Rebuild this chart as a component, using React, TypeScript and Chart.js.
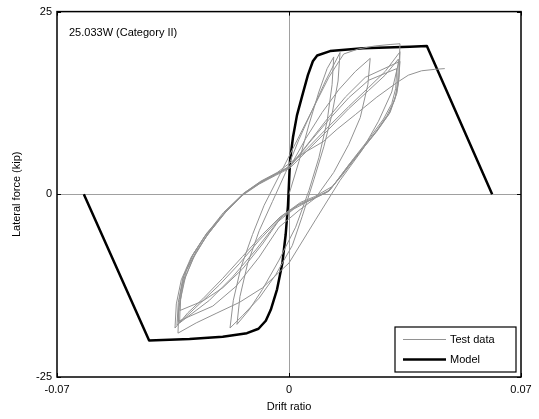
import { useEffect, useRef } from "react";
import { Chart, registerables } from "chart.js";

Chart.register(...registerables);

const panelLabel = "25.033W (Category II)";
const xTitle = "Drift ratio";
const yTitle = "Lateral force (kip)";
const seriesNames = ["Test data", "Model"];

const xTicks = [-0.07, 0, 0.07];
const xTickLabels = ["-0.07", "0", "0.07"];
const yTicks = [-25, 0, 25];
const yTickLabels = ["-25", "0", "25"];

// Model backbone
const modelDrift = [
  -0.0619, -0.0422, -0.03, -0.02, -0.0127, -0.0092, -0.007, -0.0055, -0.0036, -0.002, -0.001,
  -0.0003, 0.0003, 0.0012, 0.0024, 0.004, 0.0057, 0.0072, 0.0085, 0.0124, 0.0223, 0.0365, 0.0416,
  0.0613,
];
const modelForce = [
  0, -20, -19.8, -19.5, -19.0, -18.4, -17.3, -15.8, -13, -9.4, -5.5, -1.5, 4.6, 7.8, 10.8, 13.5,
  16.3, 18.2, 19.0, 19.6, 20.0, 20.2, 20.3, 0,
];

// Test data, as [drift ratio, force] in loading order
const testSmallCycles: [number, number][] = [
  [0, 0], [0.003, 4.5], [0.006, 9.5], [0.009, 14], [0.0115, 17.2], [0.0135, 18.8],
  [0.013, 15], [0.0115, 10], [0.009, 5], [0.006, 0.5], [0.002, -4.5], [-0.003, -9], [-0.008, -13], [-0.012, -15.8], [-0.0157, -17.8],
  [-0.0148, -14], [-0.0125, -9.5], [-0.009, -5], [-0.005, -1], [-0.001, 3], [0.003, 7.5], [0.007, 11.5], [0.011, 15.5], [0.0154, 19.4],
  [0.0148, 15.5], [0.013, 11], [0.0105, 6.5], [0.0075, 2], [0.004, -3], [0.001, -7], [-0.004, -11], [-0.009, -14.2], [-0.014, -16.6], [-0.0178, -18.3],
  [-0.0168, -14.5], [-0.0145, -10], [-0.011, -5.5], [-0.0075, -1.5], [-0.003, 2.5], [0.002, 7], [0.007, 11.5], [0.012, 16], [0.0165, 19.2],
  [0.021, 19.9], [0.026, 20.3], [0.0305, 20.5], [0.0335, 20.6],
];
const testLargeCycle1: [number, number][] = [
  [0.0333, 18.5], [0.031, 14], [0.027, 10], [0.022, 6], [0.0154, 1.9], [0.008, -3.5], [0, -9.4], [-0.008, -12.8], [-0.015, -14.8], [-0.022, -16.3], [-0.028, -17.6], [-0.0335, -19],
  [-0.0332, -15.5], [-0.0318, -12], [-0.029, -8.8], [-0.025, -5.8], [-0.0195, -2.6], [-0.0139, 0], [-0.0088, 1.6], [-0.004, 2.7], [0, 3.8], [0.006, 6.5], [0.012, 9.3], [0.018, 12], [0.024, 14.6], [0.029, 16.8], [0.0335, 19.5],
];
const testLargeCycle2: [number, number][] = [
  [0.0332, 16], [0.0326, 13.9], [0.0305, 11.2], [0.027, 9], [0.0225, 6.5], [0.018, 4], [0.0124, 0.6], [0.0075, -0.5], [0.0033, -1.3], [-0.0027, -3.1], [-0.008, -5.5], [-0.014, -8.5], [-0.02, -11.5], [-0.026, -14.3], [-0.0305, -16.2], [-0.0344, -18.3],
  [-0.034, -15], [-0.0325, -11.7], [-0.0295, -8.6], [-0.0255, -5.8], [-0.02, -2.8], [-0.0142, -0.2], [-0.009, 1.4], [-0.004, 2.6], [0.0003, 3.6], [0.006, 6.2], [0.012, 8.9], [0.018, 11.7], [0.024, 14.2], [0.029, 16.3], [0.033, 18.5],
];
const testLargeCycle3: [number, number][] = [
  [0.0328, 15.5], [0.0322, 13.5], [0.0302, 11], [0.0265, 8.6], [0.022, 6.1], [0.0175, 3.6], [0.012, 0.4], [0.007, -0.7], [0.0028, -1.5], [-0.003, -3.4], [-0.009, -6.3], [-0.015, -9.5], [-0.021, -12.4], [-0.027, -15], [-0.0338, -17.9],
  [-0.0334, -14.8], [-0.032, -11.4], [-0.029, -8.3], [-0.025, -5.5], [-0.0198, -2.5], [-0.0138, 0.1], [-0.0086, 1.7], [-0.0035, 2.9], [0.0005, 3.9], [0.005, 7.6], [0.01, 11.2], [0.015, 14.3], [0.02, 16.8], [0.0245, 18.6],
];
const testLargeCycle4: [number, number][] = [
  [0.0238, 15], [0.0215, 10.5], [0.018, 6.8], [0.0135, 3], [0.008, -0.5], [0.003, -2.2], [-0.003, -4.5], [-0.009, -8.6], [-0.016, -12.6], [-0.023, -15.3], [-0.0335, -17.4],
  [-0.0331, -14.4], [-0.0317, -11.1], [-0.0288, -8.1], [-0.0248, -5.3], [-0.0195, -2.6], [-0.014, 0], [-0.0088, 1.5], [-0.0038, 2.8], [0.0002, 3.7], [0.006, 7], [0.012, 10.2], [0.018, 13.2], [0.024, 15.6], [0.0325, 17.2],
];
const testLargeCycle5: [number, number][] = [
  [0.0322, 14.5], [0.031, 12.4], [0.0285, 10.3], [0.0245, 7.8], [0.0195, 4.9], [0.0132, 1.1], [0.0078, -0.3], [0.0035, -1.1], [-0.002, -2.9], [-0.008, -6.8], [-0.014, -10.2], [-0.02, -12.8], [-0.026, -14.6], [-0.0329, -15.9],
  [-0.0325, -13], [-0.031, -10.5], [-0.028, -7.8], [-0.024, -5.2], [-0.019, -2.4], [-0.0135, 0.1], [-0.0085, 1.7], [-0.004, 2.8], [0, 3.7], [0.005, 6.5], [0.011, 10], [0.017, 13.3], [0.023, 16], [0.0335, 18.2],
];
const testFinalCycle: [number, number][] = [
  [0.033, 15.2], [0.0318, 12.8], [0.0296, 10.8], [0.026, 8.4], [0.021, 5.5], [0.0155, 2.3], [0.0115, 0.3], [0.006, -0.9], [0.0015, -2], [-0.0035, -3.8], [-0.01, -7.6], [-0.017, -11.3], [-0.024, -14.5], [-0.033, -17.6],
  [-0.0328, -14.5], [-0.0312, -11.2], [-0.0283, -8.2], [-0.0245, -5.4], [-0.019, -2.3], [-0.0135, 0.2], [-0.0085, 1.8], [-0.0035, 3], [0.0003, 4.3], [0.005, 5.8], [0.0103, 7.2], [0.0145, 8.9], [0.02, 10.9], [0.0265, 13.3], [0.0326, 15.3], [0.036, 16.3], [0.04, 16.9], [0.044, 17.1], [0.047, 17.2],
];

const testSegments = [
  testSmallCycles,
  testLargeCycle1,
  testLargeCycle2,
  testLargeCycle3,
  testLargeCycle4,
  testLargeCycle5,
  testFinalCycle,
];

const FONT = '"Liberation Sans", Arial, sans-serif';
const TEST_COLOR = "#929292";

const framePlugin = {
  id: "frame",
  afterDraw(chart: any) {
    const { ctx, chartArea, scales } = chart;
    const { left, top, right, bottom } = chartArea;
    ctx.save();
    ctx.strokeStyle = "#000";
    ctx.lineWidth = 1.5;
    ctx.strokeRect(left, top, right - left, bottom - top);

    ctx.lineWidth = 1;
    const seg = (x1: number, y1: number, x2: number, y2: number) => {
      ctx.beginPath();
      ctx.moveTo(x1, y1);
      ctx.lineTo(x2, y2);
      ctx.stroke();
    };
    xTicks.forEach((v) => {
      const px = Math.round(scales.x.getPixelForValue(v)) + 0.5;
      seg(px, bottom, px, bottom - 4);
      seg(px, top, px, top + 4);
    });
    yTicks.forEach((v) => {
      const py = Math.round(scales.y.getPixelForValue(v)) + 0.5;
      seg(left, py, left + 4, py);
      seg(right, py, right - 4, py);
    });

    ctx.fillStyle = "#000";
    ctx.font = `11px ${FONT}`;
    ctx.textBaseline = "middle";
    ctx.textAlign = "left";
    ctx.fillText(panelLabel, left + 12, top + 21);

    // legend box
    const bw = 121;
    const bh = 45;
    const bx = right - 5 - bw;
    const by = bottom - 5 - bh;
    ctx.fillStyle = "#fff";
    ctx.fillRect(bx, by, bw, bh);
    ctx.strokeStyle = "#000";
    ctx.lineWidth = 1.2;
    ctx.strokeRect(bx, by, bw, bh);

    const rows = [
      { name: seriesNames[0], color: TEST_COLOR, width: 1, y: by + 12.5 },
      { name: seriesNames[1], color: "#000", width: 2.5, y: by + 32.5 },
    ];
    rows.forEach((r) => {
      ctx.strokeStyle = r.color;
      ctx.lineWidth = r.width;
      seg(bx + 8, r.y, bx + 51, r.y);
      ctx.fillStyle = "#000";
      ctx.fillText(r.name, bx + 55, r.y + 0.5);
    });
    ctx.restore();
  },
};

export default function App() {
  const canvasRef = useRef<HTMLCanvasElement | null>(null);

  useEffect(() => {
    document.body.style.margin = "0";
    const canvas = canvasRef.current;
    if (!canvas) return;

    const testPoints = testSegments.flat().map(([x, y]) => ({ x, y }));
    const modelPoints = modelDrift.map((x, i) => ({ x, y: modelForce[i] }));

    const chart = new Chart(canvas, {
      type: "scatter",
      data: {
        datasets: [
          {
            label: seriesNames[0],
            data: testPoints,
            showLine: true,
            borderColor: TEST_COLOR,
            borderWidth: 1,
            pointRadius: 0,
            tension: 0,
          },
          {
            label: seriesNames[1],
            data: modelPoints,
            showLine: true,
            borderColor: "#000",
            borderWidth: 2.5,
            pointRadius: 0,
            tension: 0,
            borderJoinStyle: "round",
          },
        ],
      },
      options: {
        responsive: false,
        animation: false,
        layout: { padding: { left: 0, top: 11, right: 18, bottom: 0 } },
        plugins: {
          legend: { display: false },
          tooltip: { enabled: false },
        },
        scales: {
          x: {
            type: "linear",
            min: -0.07,
            max: 0.07,
            afterBuildTicks: (axis: any) => {
              axis.ticks = xTicks.map((value) => ({ value }));
            },
            afterFit: (axis: any) => {
              axis.height = 42;
            },
            ticks: {
              autoSkip: false,
              maxRotation: 0,
              padding: 6,
              color: "#000",
              font: { family: FONT, size: 11 },
              callback: (value: any) => xTickLabels[xTicks.indexOf(Number(value))] ?? "",
            },
            grid: {
              drawTicks: false,
              color: (c: any) => (c.tick && c.tick.value === 0 ? "#a0a0a0" : "rgba(0,0,0,0)"),
              lineWidth: 1,
            },
            border: { display: false },
            title: {
              display: true,
              text: xTitle,
              color: "#000",
              font: { family: FONT, size: 11 },
              padding: { top: 0, bottom: 5 },
            },
          },
          y: {
            type: "linear",
            min: -25,
            max: 25,
            afterBuildTicks: (axis: any) => {
              axis.ticks = yTicks.map((value) => ({ value }));
            },
            afterFit: (axis: any) => {
              axis.width = 57;
            },
            ticks: {
              autoSkip: false,
              padding: 5,
              color: "#000",
              font: { family: FONT, size: 11 },
              callback: (value: any) => yTickLabels[yTicks.indexOf(Number(value))] ?? "",
            },
            grid: {
              drawTicks: false,
              color: (c: any) => (c.tick && c.tick.value === 0 ? "#a0a0a0" : "rgba(0,0,0,0)"),
              lineWidth: 1,
            },
            border: { display: false },
            title: {
              display: true,
              text: yTitle,
              color: "#000",
              font: { family: FONT, size: 11 },
              padding: { top: 10, bottom: 0 },
            },
          },
        },
      },
      plugins: [framePlugin],
    });

    return () => chart.destroy();
  }, []);

  return (
    <div style={{ position: "absolute", left: 0, top: 0, width: 539, height: 419, background: "#fff" }}>
      <canvas ref={canvasRef} width={539} height={419} />
    </div>
  );
}
